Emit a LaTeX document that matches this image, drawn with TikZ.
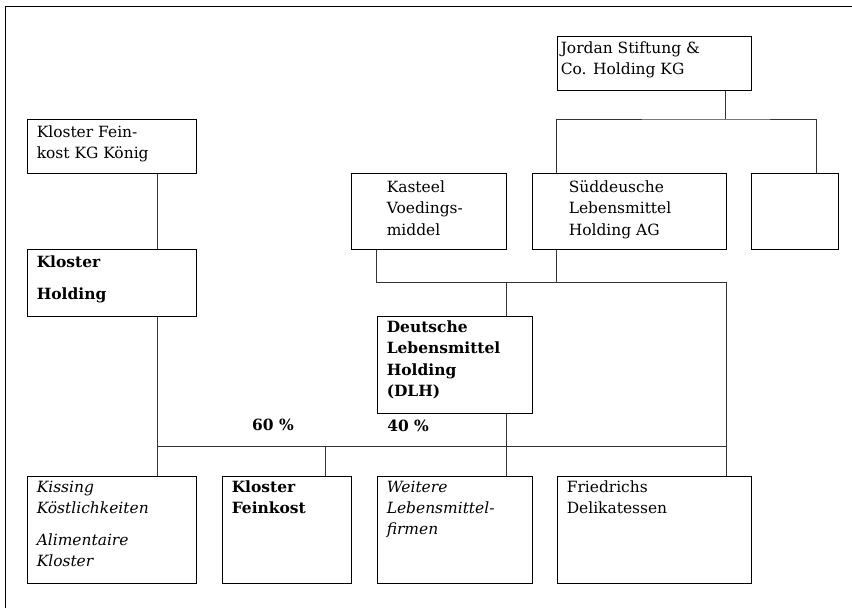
\documentclass[tikz,border=0pt]{standalone}
\usepackage{fontspec}
\setmainfont{DejaVu Serif}
\usetikzlibrary{fit}
\tikzset{
  firm/.style={draw, line width=0.75pt, inner sep=0pt},
  txt/.style={anchor=north west, inner sep=0pt, align=left,
    font=\fontsize{11.6}{16}\selectfont},
  txtb/.style={txt, font=\fontsize{11.6}{16}\selectfont\bfseries},
  txti/.style={txt, font=\fontsize{11.6}{16}\selectfont\itshape},
  link/.style={draw=black!80, line width=0.7pt}
}
\begin{document}
\begin{tikzpicture}[x=0.75pt, y=-0.75pt]
  \useasboundingbox (0,0) rectangle (852,608);
  \draw[line width=0.75pt] (5,608) -- (5,6) -- (852,6);

  % boxes
  \node[firm, fit={(557,36) (751,90)}] (jordan) {};
  \node[firm, fit={(27,119) (196,173)}] (kfk) {};
  \node[firm, fit={(351,173) (506,249)}] (kasteel) {};
  \node[firm, fit={(532,173) (726,249)}] (sued) {};
  \node[firm, fit={(751,173) (838,249)}] (leer) {};
  \node[firm, fit={(27,249) (196,316)}] (kh) {};
  \node[firm, fit={(377,316) (532,413)}] (dlh) {};
  \node[firm, fit={(27,476) (196,583)}] (kiss) {};
  \node[firm, fit={(222,476) (351,583)}] (kf) {};
  \node[firm, fit={(377,476) (532,583)}] (weit) {};
  \node[firm, fit={(557,476) (751,583)}] (fried) {};

  % texts
  \node[txt] (jordan-t) at ([shift={(4,6)}]jordan.north west) {Jordan Stiftung \&\\Co. Holding KG};
  \node[txt] (kfk-t) at ([shift={(10,7)}]kfk.north west) {Kloster Fein-\\kost KG König};
  \node[txt] (kasteel-t) at ([shift={(36,8)}]kasteel.north west) {Kasteel\\Voedings-\\middel};
  \node[txt] (sued-t) at ([shift={(37,8)}]sued.north west) {Süddeusche\\Lebensmittel\\Holding AG};
  \node[txtb] (kh-t) at ([shift={(10,7)}]kh.north west) {Kloster\\[8pt]Holding};
  \node[txtb] (dlh-t) at ([shift={(10,5)}]dlh.north west) {Deutsche\\Lebensmittel\\Holding\\(DLH)};
  \node[txti] (kiss-t) at ([shift={(10,5)}]kiss.north west) {Kissing\\Köstlichkeiten\\[8pt]Alimentaire\\Kloster};
  \node[txtb] (kf-t) at ([shift={(10,5)}]kf.north west) {Kloster\\Feinkost};
  \node[txti] (weit-t) at ([shift={(10,5)}]weit.north west) {Weitere\\Lebensmittel-\\firmen};
  \node[txt] (fried-t) at ([shift={(10,5)}]fried.north west) {Friedrichs\\Delikatessen};
  \node[txtb, anchor=center] (p60) at (273,425) {60 \%};
  \node[txtb, anchor=west] (p40) at (387,426) {40 \%};

  % connectors
  \coordinate (jd) at (725,119);
  \coordinate (bus-a) at (726,282);
  \coordinate (bus-b) at (157,446);
  \draw[link] (jordan.south -| jd) -- (jd);
  \draw[link] (sued.north -| fried.west) |- (jd) -| (leer.north -| 816,0);
  \draw[link] (kfk.south -| bus-b) -- (kh.north -| bus-b);
  \draw[link] (kasteel.south -| 376,0) |- (bus-a) -- (fried.north -| bus-a);
  \draw[link] (sued.south -| fried.west) -- (bus-a -| fried.west);
  \draw[link] (dlh.north -| kasteel.east) -- (bus-a -| kasteel.east);
  \draw[link] (kh.south -| bus-b) -- (kiss.north -| bus-b);
  \draw[link] (bus-b) -- (bus-b -| bus-a);
  \draw[link] (bus-b -| 325,0) -- (kf.north -| 325,0);
  \draw[link] (dlh.south -| kasteel.east) -- (weit.north -| kasteel.east);
\end{tikzpicture}
\end{document}
